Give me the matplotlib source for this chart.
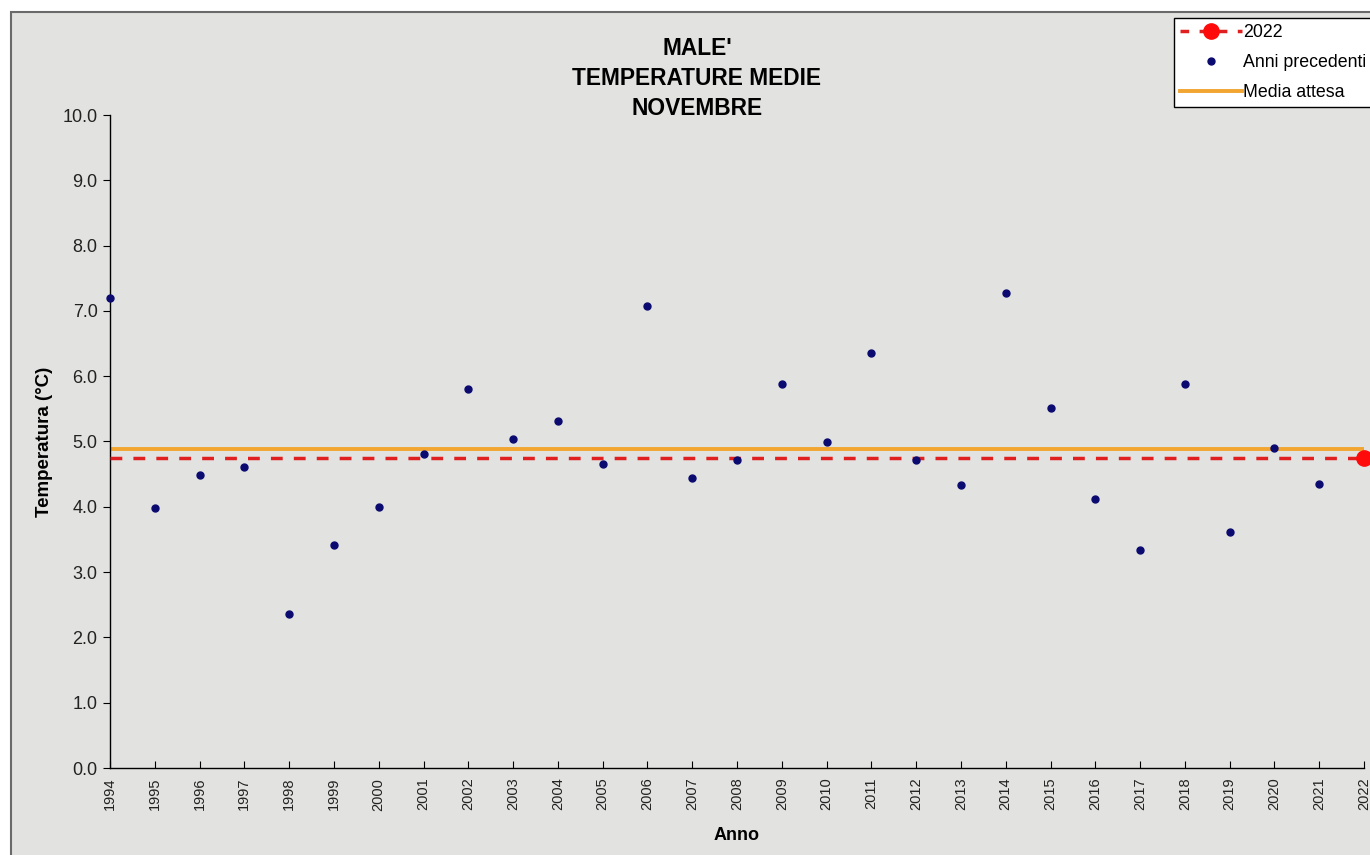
import matplotlib
matplotlib.use("Agg")
import matplotlib.pyplot as plt
from matplotlib.patches import Rectangle
from matplotlib.lines import Line2D

plt.rcParams['font.family'] = ['Liberation Sans', 'DejaVu Sans']

years = list(range(1994, 2022))
temps = [7.20, 3.98, 4.49, 4.61, 2.36, 3.41, 4.00, 4.81, 5.80, 5.04,
         5.31, 4.66, 7.07, 4.44, 4.72, 5.88, 4.99, 6.36, 4.72, 4.33,
         7.27, 5.51, 4.12, 3.34, 5.88, 3.61, 4.90, 4.35]
year_current = 2022
temp_current = 4.74
media_attesa = 4.89
yticks = [0, 1, 2, 3, 4, 5, 6, 7, 8, 9, 10]
xticks = list(range(1994, 2023))
title_text = "MALE'\nTEMPERATURE MEDIE\nNOVEMBRE"

W, H = 1370, 855
fig = plt.figure(figsize=(W / 100, H / 100), dpi=100)
fig.patch.set_facecolor('white')
bg = Rectangle((11 / W, -0.1), 1.2, 1 - 12 / H + 0.1, transform=fig.transFigure,
               facecolor='#e2e2e0', edgecolor='#6a6a6a', linewidth=1.5, zorder=-10)
fig.patches.append(bg)

ax = fig.add_axes([110 / W, (H - 768) / H, 1254 / W, 653 / H])
ax.set_facecolor('none')
ax.set_xlim(1994, 2022)
ax.set_ylim(0, 10)

ax.plot([1994, 2022], [media_attesa, media_attesa], color='#f2a531', lw=2.8, zorder=2)
ax.plot([1994, 2022], [temp_current, temp_current], color='#e02020', lw=2.5,
        dashes=(3.4, 3.2), zorder=3)
ax.plot(years, temps, 'o', color='#0a0a70', ms=5, zorder=4, clip_on=False)
ax.plot([year_current], [temp_current], 'o', color='#ff0a0a', ms=11, zorder=5, clip_on=False)

for s in ['top', 'right']:
    ax.spines[s].set_visible(False)
for s in ['left', 'bottom']:
    ax.spines[s].set_color('black')
    ax.spines[s].set_linewidth(1.0)

ax.set_yticks(yticks)
ax.set_yticklabels([f"{v:.1f}" for v in yticks], fontsize=13, color='#222222')
ax.set_xticks(xticks)
ax.set_xticklabels([str(y) for y in xticks], rotation=90, fontsize=10.5, color='#222222')
ax.tick_params(axis='y', direction='out', length=5, pad=4)
ax.tick_params(axis='x', direction='in', length=5, pad=7)

ax.set_xlabel('Anno', fontsize=13, fontweight='bold', labelpad=12)
ax.set_ylabel('Temperatura (°C)', fontsize=13.5, fontweight='bold', labelpad=7)

fig.text(697 / W, 1 - 37 / H, title_text, ha='center', va='top', fontsize=16.4,
         fontweight='bold', linespacing=1.4)

handles = [
    Line2D([0], [0], color='#e02020', lw=2.5, dashes=(2.5, 3), marker='o',
           markersize=11, markerfacecolor='#ff0a0a', markeredgecolor='#ff0a0a'),
    Line2D([0], [0], ls='none', marker='o', color='#0a0a70', ms=5),
    Line2D([0], [0], color='#f2a531', lw=2.8),
]
leg = fig.legend(handles, ['2022', 'Anni precedenti', 'Media attesa'],
                 loc='upper left', bbox_to_anchor=(1174 / W, 1 - 18 / H),
                 fontsize=12.8, frameon=True, fancybox=False, edgecolor='black',
                 facecolor='white', framealpha=1, handlelength=3.5, handletextpad=0.05,
                 borderpad=0.35, labelspacing=0.72, borderaxespad=0)
leg.get_frame().set_linewidth(1.0)

fig.savefig('out.png', dpi=100, facecolor=fig.get_facecolor())
